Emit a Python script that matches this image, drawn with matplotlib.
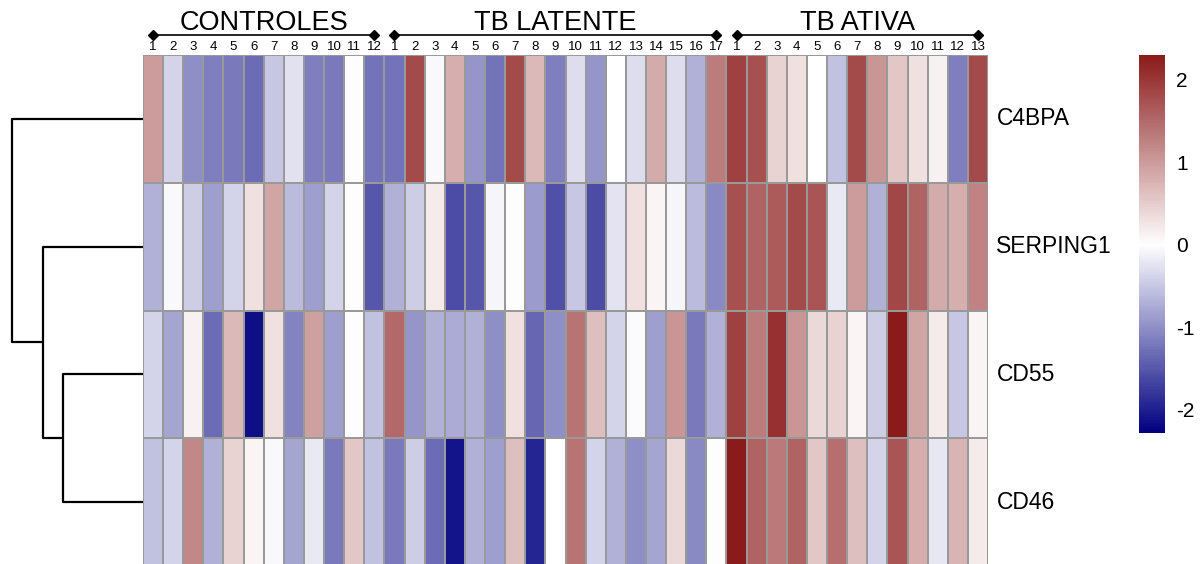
import numpy as np
import matplotlib
matplotlib.use("Agg")
import matplotlib.pyplot as plt
from matplotlib.colors import LinearSegmentedColormap

plt.rcParams['font.family'] = ['Liberation Sans', 'DejaVu Sans']

genes = ["C4BPA", "SERPING1", "CD55", "CD46"]
groups = ["CONTROLES", "TB LATENTE", "TB ATIVA"]
group_sizes = [12, 17, 13]

controles = [
    [1.0, -0.4, -1.0, -1.15, -1.2, -1.3, -0.5, -0.27, -1.15, -1.2, -0.02, -1.25],
    [-0.7, -0.05, -0.45, -0.85, -0.4, 0.3, 0.9, -0.6, -0.85, -0.4, -0.02, -1.5],
    [-0.4, -0.8, 0.15, -1.3, 0.7, -2.15, 0.3, -1.1, 0.95, -0.85, -0.02, -0.55],
    [-0.55, -0.4, 1.2, -0.7, 0.45, 0.1, -0.05, -0.8, -0.2, -1.2, 0.55, -0.55],
]
tb_latente = [
    [-1.25, 1.8, -0.05, 0.8, -0.95, -1.25, 1.8, 0.7, -1.15, -0.3, -0.95, 0.0, -0.3, 0.85, -0.3, -0.7, 1.3],
    [-0.7, -0.45, 0.2, -1.6, -1.5, -0.08, -0.02, -0.9, -1.55, -0.5, -1.6, -0.25, 0.3, 0.1, -0.08, -0.6, -1.05],
    [1.5, -0.95, -0.7, -0.75, -0.7, -1.0, 0.3, -1.35, -1.0, 1.4, 0.65, -0.4, -0.03, -0.85, 1.05, -1.2, -0.7],
    [-1.2, -0.45, -1.3, -2.1, -0.7, -0.85, 0.65, -1.95, 0.0, 1.4, -0.4, -0.7, -1.0, -0.8, 0.4, -1.05, -0.02],
]
tb_ativa = [
    [1.9, 1.75, 0.45, 0.3, 0.0, -0.55, 1.8, 1.05, 0.55, 0.3, 0.15, -1.15, 1.8],
    [1.75, 1.55, 1.65, 1.8, 1.7, -0.2, 1.0, -0.7, 1.85, 1.55, 0.85, 0.8, 1.25],
    [1.9, 1.3, 2.05, 1.05, 0.4, 0.45, 0.1, -0.45, 2.3, 0.9, 0.2, -0.5, 0.1],
    [2.3, 1.55, 1.35, 1.55, 0.55, 1.45, 0.65, -0.4, 1.7, 0.8, -0.22, 0.75, 0.2],
]

# dendrogram merge heights: (CD55,CD46), (SERPING1, .), (C4BPA, .)
merge_heights = [1.83, 2.29, 3.0]

cbar_ticks = [-2, -1, 0, 1, 2]
vmin, vmax = -2.28, 2.3

data = np.hstack([np.array(controles), np.array(tb_latente), np.array(tb_ativa)])
nrow, ncol = data.shape

W, H = 1204, 564
fig = plt.figure(figsize=(W / 100, H / 100), dpi=100)

def rect(x0, y0, x1, y1):
    return [x0 / W, 1 - y1 / H, (x1 - x0) / W, (y1 - y0) / H]

cmap = LinearSegmentedColormap.from_list("bwr_custom", [(0, "#000080"), (-vmin / (vmax - vmin), "#FFFFFF"), (1, "#8B1A1A")])

ax = fig.add_axes(rect(143, 55, 988, 566))
mesh = ax.pcolormesh(np.arange(ncol + 1), np.arange(nrow + 1), data, cmap=cmap,
                     vmin=vmin, vmax=vmax, edgecolors="#999999", linewidth=1.4)
ax.set_xlim(0, ncol)
ax.set_ylim(nrow, 0)
ax.axis("off")

# column numbers, group brackets and titles
start = 0
for g, n in zip(groups, group_sizes):
    for i in range(n):
        ax.text(start + i + 0.5, -0.018, str(i + 1), ha="center", va="bottom",
                fontsize=9.5, clip_on=False)
    ax.plot([start + 0.5, start + n - 0.5], [-0.158, -0.158], color="black", lw=1.2,
            marker="D", markersize=5, clip_on=False)
    ax.text(start + n / 2, -0.198, g, ha="center", va="baseline", fontsize=19.5, clip_on=False)
    start += n

# row labels
for r, gname in enumerate(genes):
    ax.text(ncol + 0.42, r + 0.5, gname, ha="left", va="center", fontsize=16.5, clip_on=False)

# dendrogram
dax = fig.add_axes(rect(0, 55, 143, 566))
h1, h2, h3 = merge_heights
top = h3 * 143 / 131
dax.set_xlim(top, 0)
dax.set_ylim(nrow, 0)
dax.axis("off")
kw = dict(color="black", lw=1.6, solid_capstyle="butt")
yc = [0.5, 1.5, 2.5, 3.5]
m1 = (yc[2] + yc[3]) / 2
dax.plot([0, h1, h1, 0], [yc[2], yc[2], yc[3], yc[3]], **kw)
m2 = (yc[1] + m1) / 2
dax.plot([0, h2, h2, h1], [yc[1], yc[1], m1, m1], **kw)
dax.plot([0, h3, h3, h2], [yc[0], yc[0], m2, m2], **kw)

# colorbar
cax = fig.add_axes(rect(1139, 55, 1165, 433))
cb = fig.colorbar(mesh, cax=cax, ticks=cbar_ticks)
cb.outline.set_visible(False)
cb.ax.tick_params(length=0, labelsize=15, pad=8)
cb.ax.set_yticklabels([str(t) for t in cbar_ticks])

fig.savefig("out.png", dpi=100)
